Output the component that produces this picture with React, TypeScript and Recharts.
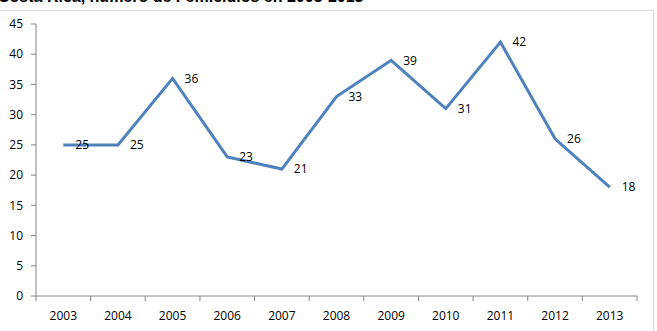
import React from "react";
import { LineChart, Line, XAxis, YAxis, LabelList } from "recharts";

// Femicidios por año
const years = [2003, 2004, 2005, 2006, 2007, 2008, 2009, 2010, 2011, 2012, 2013];
const femicidios = [25, 25, 36, 23, 21, 33, 39, 31, 42, 26, 18];
const yTicks = [0, 5, 10, 15, 20, 25, 30, 35, 40, 45];
// marcas del eje x entre categorías
const bandEdges = [2002.5, 2003.5, 2004.5, 2005.5, 2006.5, 2007.5, 2008.5, 2009.5, 2010.5, 2011.5, 2012.5, 2013.5];

const data = years.map((year, i) => ({ year, value: femicidios[i] }));

const FONT = "'Open Sans', 'Noto Sans', sans-serif";
const AXIS = "#868686";

const App: React.FC = () => {
  return (
    <div style={{ position: "absolute", left: 0, top: 0, width: 657, height: 331, background: "#fff", overflow: "hidden" }}>
      <div
        style={{
          position: "absolute",
          left: -2,
          top: -12,
          fontFamily: "'Liberation Sans', Arial, sans-serif",
          fontWeight: "bold",
          fontSize: 16,
          whiteSpace: "nowrap",
          color: "#000",
        }}
      >
        Costa Rica, número de Femicidios en 2003-2013
      </div>
      <div
        style={{
          position: "absolute",
          left: -2,
          top: 10,
          width: 655,
          height: 340,
          borderTop: "1px solid #d9d9d9",
          borderRight: "1px solid #d9d9d9",
        }}
      />
      <div style={{ position: "absolute", left: 0, top: 0 }}>
        <LineChart width={657} height={331} data={data} margin={{ top: 24, right: 20, bottom: 5, left: 6 }}>
          <XAxis
            xAxisId="edges"
            dataKey="year"
            type="number"
            domain={[2002.5, 2013.5]}
            ticks={bandEdges}
            interval={0}
            tickFormatter={() => ""}
            tickLine={{ stroke: AXIS }}
            tickSize={5}
            height={1}
            stroke={AXIS}
            allowDataOverflow
          />
          <XAxis
            xAxisId="labels"
            dataKey="year"
            type="number"
            domain={[2002.5, 2013.5]}
            ticks={years}
            interval={0}
            axisLine={false}
            tickLine={false}
            tickMargin={8}
            height={29}
            tick={{ fill: "#000", fontSize: 12, fontFamily: FONT }}
            allowDataOverflow
          />
          <YAxis
            domain={[0, 45]}
            ticks={yTicks}
            width={30}
            tickSize={5}
            tickMargin={8}
            stroke={AXIS}
            tick={{ fill: "#000", fontSize: 12, fontFamily: FONT }}
            interval={0}
          />
          <Line
            xAxisId="edges"
            dataKey="value"
            stroke="#4F81BD"
            strokeWidth={3}
            dot={false}
            type="linear"
            isAnimationActive={false}
          >
            <LabelList
              dataKey="value"
              position="right"
              offset={12}
              fill="#000"
              fontSize={12}
              fontFamily={FONT}
            />
          </Line>
        </LineChart>
      </div>
    </div>
  );
};

export default App;
